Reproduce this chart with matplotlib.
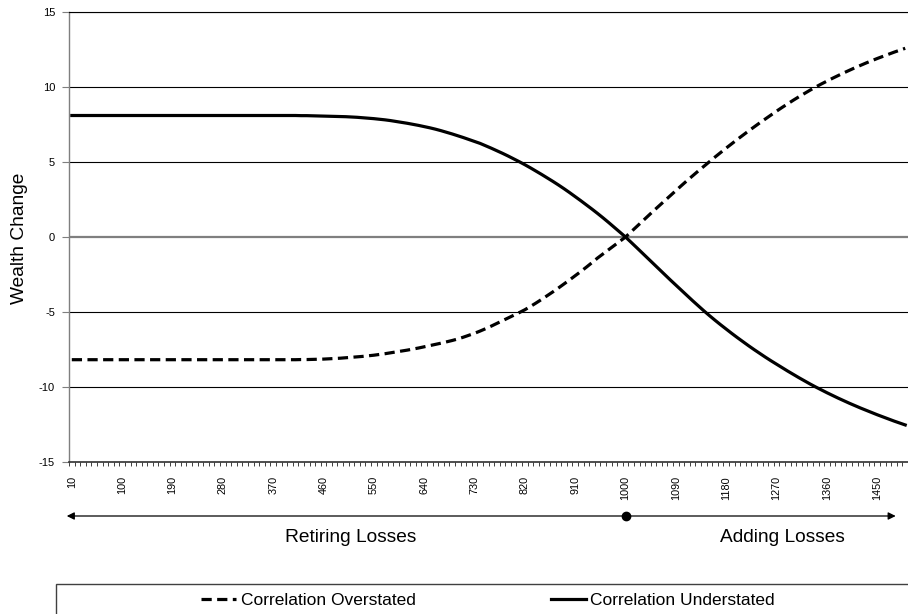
import matplotlib
matplotlib.use("Agg")
import matplotlib.pyplot as plt
import matplotlib.transforms as mtransforms
from matplotlib.patches import Rectangle
import numpy as np

plt.rcParams['font.family'] = ['Liberation Sans', 'DejaVu Sans']
plt.rcParams['axes.unicode_minus'] = False

# categories on the x axis (losses, step 10)
losses = list(range(10, 1510, 10))
tick_every = 9

# Correlation Understated (solid)
understated = [
    8.10, 8.10, 8.10, 8.10, 8.10, 8.10, 8.10, 8.10, 8.10, 8.10,
    8.10, 8.10, 8.10, 8.10, 8.10, 8.10, 8.10, 8.10, 8.10, 8.10,
    8.10, 8.10, 8.10, 8.10, 8.10, 8.10, 8.10, 8.10, 8.10, 8.10,
    8.10, 8.10, 8.10, 8.10, 8.10, 8.10, 8.10, 8.10, 8.10, 8.10,
    8.10, 8.09, 8.09, 8.08, 8.07, 8.06, 8.05, 8.04, 8.03, 8.02,
    8.00, 7.98, 7.95, 7.92, 7.89, 7.85, 7.81, 7.76, 7.70, 7.64,
    7.58, 7.51, 7.44, 7.36, 7.28, 7.19, 7.09, 6.98, 6.87, 6.75,
    6.63, 6.50, 6.37, 6.24, 6.08, 5.92, 5.75, 5.58, 5.40, 5.21,
    5.02, 4.82, 4.61, 4.39, 4.17, 3.94, 3.71, 3.47, 3.22, 2.96,
    2.69, 2.42, 2.14, 1.86, 1.57, 1.27, 0.96, 0.64, 0.32, 0.00,
    -0.35, -0.71, -1.07, -1.43, -1.79, -2.15, -2.51, -2.86, -3.21, -3.56,
    -3.91, -4.25, -4.59, -4.92, -5.24, -5.55, -5.85, -6.14, -6.43, -6.71,
    -6.98, -7.25, -7.51, -7.76, -8.01, -8.25, -8.48, -8.71, -8.94, -9.16,
    -9.38, -9.59, -9.80, -10.00, -10.19, -10.38, -10.56, -10.74, -10.91, -11.08,
    -11.24, -11.40, -11.55, -11.70, -11.85, -11.99, -12.13, -12.27, -12.40, -12.53,
]

# Correlation Overstated (dashed)
overstated = [
    -8.18, -8.18, -8.18, -8.18, -8.18, -8.18, -8.18, -8.18, -8.18, -8.18,
    -8.18, -8.18, -8.18, -8.18, -8.18, -8.18, -8.18, -8.18, -8.18, -8.18,
    -8.18, -8.18, -8.18, -8.18, -8.18, -8.18, -8.18, -8.18, -8.18, -8.18,
    -8.18, -8.18, -8.18, -8.18, -8.18, -8.18, -8.18, -8.18, -8.18, -8.18,
    -8.18, -8.17, -8.17, -8.16, -8.15, -8.14, -8.12, -8.10, -8.08, -8.05,
    -8.02, -7.99, -7.96, -7.92, -7.88, -7.83, -7.78, -7.72, -7.66, -7.60,
    -7.54, -7.47, -7.40, -7.32, -7.24, -7.16, -7.08, -6.99, -6.90, -6.80,
    -6.68, -6.55, -6.42, -6.27, -6.11, -5.94, -5.76, -5.58, -5.40, -5.22,
    -5.04, -4.85, -4.63, -4.40, -4.16, -3.91, -3.66, -3.40, -3.13, -2.86,
    -2.58, -2.30, -2.01, -1.71, -1.40, -1.12, -0.84, -0.56, -0.28, 0.00,
    0.35, 0.70, 1.05, 1.40, 1.74, 2.08, 2.42, 2.76, 3.10, 3.43,
    3.76, 4.08, 4.40, 4.71, 5.02, 5.33, 5.63, 5.93, 6.22, 6.51,
    6.79, 7.07, 7.34, 7.61, 7.87, 8.13, 8.39, 8.64, 8.88, 9.12,
    9.35, 9.57, 9.79, 10.00, 10.20, 10.39, 10.58, 10.76, 10.94, 11.11,
    11.28, 11.44, 11.60, 11.75, 11.90, 12.04, 12.18, 12.32, 12.45, 12.58,
]

y_ticks = [-15, -10, -5, 0, 5, 10, 15]
pivot = 1000

W, H = 908, 614
fig = plt.figure(figsize=(W / 100, H / 100), dpi=100)
ax = fig.add_axes([69 / W, 1 - 462 / H, (908 - 69) / W, (462 - 12) / H])

x = np.arange(len(losses))
ax.plot(x, overstated, color="black", lw=2.3, ls=(0, (3.2, 1.7)),
        label="Correlation Overstated")
ax.plot(x, understated, color="black", lw=2.3, label="Correlation Understated")

ax.set_xlim(-0.5, len(losses) - 0.5)
ax.set_ylim(y_ticks[0], y_ticks[-1])
ax.set_yticks(y_ticks)
for yv in y_ticks:
    if yv == 0:
        ax.axhline(yv, color="#7f7f7f", lw=1.6, zorder=1)
    elif yv != y_ticks[0]:
        ax.axhline(yv, color="black", lw=0.8, zorder=1)

major = x[::tick_every]
ax.set_xticks(major)
ax.set_xticklabels([str(losses[i]) for i in major], rotation=90, fontsize=7.8)
ax.set_xticks(np.arange(len(losses) + 1) - 0.5, minor=True)
ax.tick_params(axis="x", which="major", length=0, pad=10)
ax.tick_params(axis="x", which="minor", length=3, width=0.7, color="#404040")
ax.tick_params(axis="y", length=5, width=0.8, color="#7f7f7f", labelsize=8, pad=5)

ax.spines["right"].set_visible(False)
ax.spines["top"].set_color("black")
ax.spines["top"].set_linewidth(0.8)
ax.spines["left"].set_color("#7f7f7f")
ax.spines["left"].set_linewidth(1.0)
ax.spines["bottom"].set_color("#303030")
ax.spines["bottom"].set_linewidth(1.2)

fig.text(20 / W, 1 - 238 / H, "Wealth Change", rotation=90, ha="center",
         va="center", fontsize=13.8)

# direction arrow below the axis
trans = mtransforms.blended_transform_factory(ax.transData, fig.transFigure)
arrow_y = 1 - 516 / H
ax.annotate("", xy=(-0.9, arrow_y), xytext=(147.3, arrow_y), xycoords=trans,
            textcoords=trans, annotation_clip=False,
            arrowprops=dict(arrowstyle="<|-|>", lw=0.9, color="black",
                            mutation_scale=11, shrinkA=0, shrinkB=0))
ax.plot([losses.index(pivot)], [arrow_y], "o", color="black", ms=6,
        transform=trans, clip_on=False)
fig.text(351 / W, 1 - 538 / H, "Retiring Losses", ha="center", va="center",
         fontsize=13.8)
fig.text(782 / W, 1 - 538 / H, "Adding Losses", ha="center", va="center",
         fontsize=13.8)

# legend box
fig.patches.append(Rectangle((56 / W, 1 - 640 / H), 900 / W, 56 / H,
                             transform=fig.transFigure, fill=False,
                             edgecolor="#404040", lw=1.0))
fig.legend(loc="center", bbox_to_anchor=(488 / W, 1 - 600 / H), ncol=2,
           frameon=False, fontsize=12.5, handlelength=2.0, handletextpad=0.25,
           columnspacing=7.8)

fig.savefig("out.png", dpi=100)
